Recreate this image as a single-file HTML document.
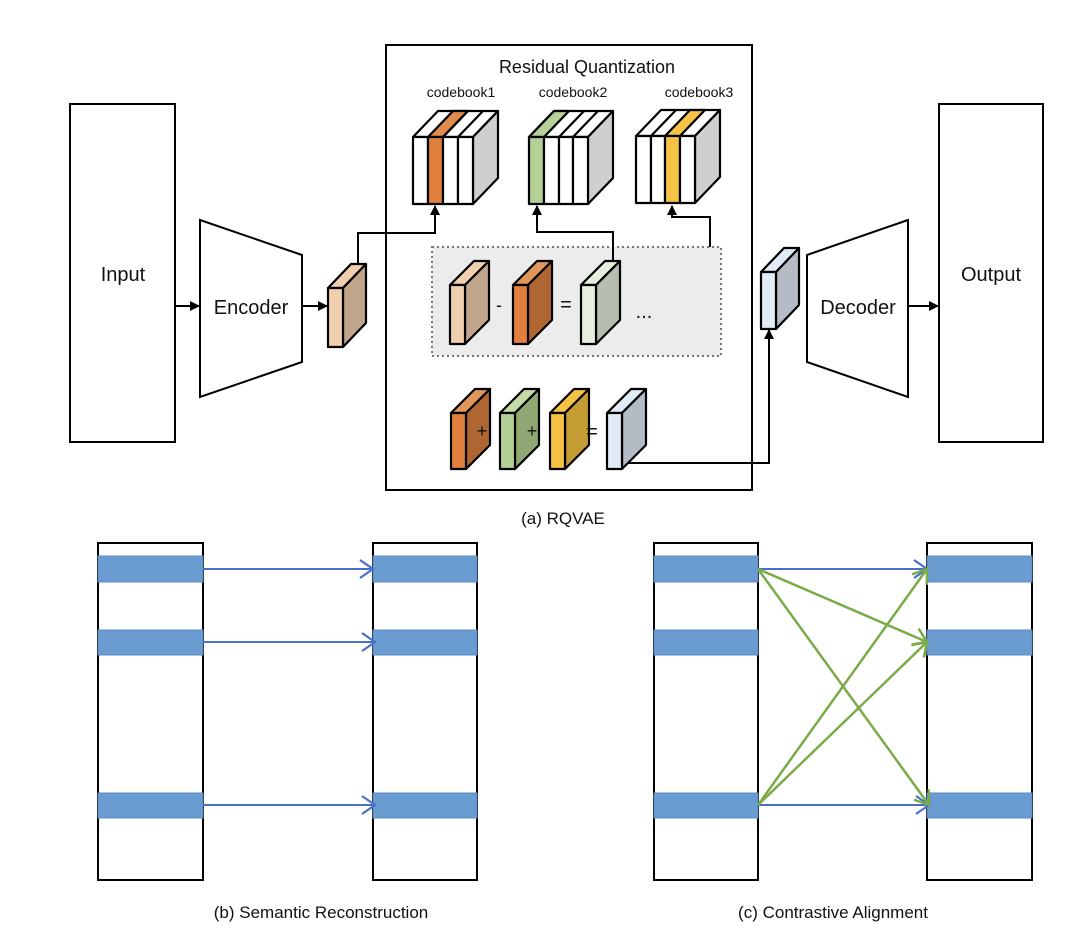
<!DOCTYPE html>
<html><head><meta charset="utf-8"><style>
html,body{margin:0;padding:0;background:#fff;}
svg{display:block;font-family:"Liberation Sans",Arial,sans-serif;}
</style></head><body>
<svg width="1080" height="947" viewBox="0 0 1080 947" xmlns="http://www.w3.org/2000/svg">
<defs>
<marker id="ab" markerWidth="10" markerHeight="10" refX="9" refY="5" orient="auto" markerUnits="userSpaceOnUse"><path d="M0,0 L10,5 L0,10 z" fill="#000"/></marker>
<marker id="bl" markerWidth="18" markerHeight="20" refX="15" refY="10" orient="auto" markerUnits="userSpaceOnUse"><path d="M2,1 L15,10 L2,19" fill="none" stroke="#4a6fc8" stroke-width="2.2"/></marker>
<marker id="gr" markerWidth="18" markerHeight="20" refX="15" refY="10" orient="auto" markerUnits="userSpaceOnUse"><path d="M2,1 L15,10 L2,19" fill="none" stroke="#7aab48" stroke-width="2.5"/></marker>
</defs>
<g stroke="#000" stroke-width="2" fill="none">
<rect x="70" y="104" width="105" height="338" fill="#fff"/>
<polygon points="200,220 302,255 302,362 200,397" fill="#fff"/>
<rect x="386" y="45" width="366" height="445" fill="#fff"/>
<polygon points="908,220 807,255 807,362 908,397" fill="#fff"/>
<rect x="939" y="104" width="104" height="338" fill="#fff"/>
<line x1="175" y1="306" x2="199" y2="306" marker-end="url(#ab)"/>
<line x1="302" y1="306" x2="327" y2="306" marker-end="url(#ab)"/>
<line x1="908" y1="306" x2="938" y2="306" marker-end="url(#ab)"/>
<rect x="432" y="247" width="289" height="109" fill="#ececec" stroke="#777" stroke-dasharray="2,3"/>
<polyline points="358,264 358,233 435,233 435,206" marker-end="url(#ab)"/>
<polyline points="613,262 613,232 537,232 537,206" marker-end="url(#ab)"/>
<polyline points="710,247 710,217 672,217 672,206" marker-end="url(#ab)"/>
<polyline points="628,463 769,463 769,330" marker-end="url(#ab)"/>
</g>
<g stroke="#000" stroke-width="2.2" stroke-linejoin="round">
<polygon points="413,137 438,111 498,111 473,137" fill="#fff"/>
<polygon points="428,137 453,111 468,111 443,137" fill="#e08a4b"/>
<path d="M443,137 L468,111 M458,137 L483,111" fill="none"/>
<polygon points="473,137 498,111 498,178 473,204" fill="#cfcfcf"/>
<rect x="413" y="137" width="15" height="67" fill="#fff"/><rect x="428" y="137" width="15" height="67" fill="#e07f3e"/><rect x="443" y="137" width="15" height="67" fill="#fff"/><rect x="458" y="137" width="15" height="67" fill="#fff"/>
<polygon points="529,137 554,111 613,111 588,137" fill="#fff"/>
<polygon points="529,137 554,111 569,111 544,137" fill="#b5d198"/>
<path d="M559,137 L584,111 M573,137 L598,111" fill="none"/>
<polygon points="588,137 613,111 613,178 588,204" fill="#cfcfcf"/>
<rect x="529" y="137" width="15" height="67" fill="#b3d196"/><rect x="544" y="137" width="15" height="67" fill="#fff"/><rect x="559" y="137" width="14" height="67" fill="#fff"/><rect x="573" y="137" width="15" height="67" fill="#fff"/>
<polygon points="636,136 661,110 720,110 695,136" fill="#fff"/>
<polygon points="665,136 690,110 705,110 680,136" fill="#f4c244"/>
<path d="M651,136 L676,110 M695,136 L720,110" fill="none"/>
<polygon points="695,136 720,110 720,177 695,203" fill="#cfcfcf"/>
<rect x="636" y="136" width="15" height="67" fill="#fff"/><rect x="651" y="136" width="14" height="67" fill="#fff"/><rect x="665" y="136" width="15" height="67" fill="#f4c244"/><rect x="680" y="136" width="15" height="67" fill="#fff"/>
</g>
<g stroke="#000" stroke-width="2.2" stroke-linejoin="round">
<polygon points="328,288 351,264 366,264 343,288" fill="#f0cfae"/>
<polygon points="343,288 366,264 366,323 343,347" fill="#c0a58c"/>
<rect x="328" y="288" width="15" height="59" fill="#f0cfae"/>
<polygon points="450,285 474,261 489,261 465,285" fill="#f0cfae"/><polygon points="465,285 489,261 489,320 465,344" fill="#c0a58c"/><rect x="450" y="285" width="15" height="59" fill="#f0cfae"/>
<polygon points="513,285 537,261 552,261 528,285" fill="#e1965c"/><polygon points="528,285 552,261 552,320 528,344" fill="#b06633"/><rect x="513" y="285" width="15" height="59" fill="#e07f3e"/>
<polygon points="581,285 605,261 620,261 596,285" fill="#e6eedc"/><polygon points="596,285 620,261 620,320 596,344" fill="#b6beb0"/><rect x="581" y="285" width="15" height="59" fill="#e6eedc"/>
<polygon points="451,413 475,389 490,389 466,413" fill="#e1965c"/><polygon points="466,413 490,389 490,445 466,469" fill="#b06633"/><rect x="451" y="413" width="15" height="56" fill="#e07f3e"/>
<polygon points="500,413 524,389 539,389 515,413" fill="#c4dba8"/><polygon points="515,413 539,389 539,445 515,469" fill="#8fa874"/><rect x="500" y="413" width="15" height="56" fill="#b3d196"/>
<polygon points="550,413 574,389 589,389 565,413" fill="#f4c244"/><polygon points="565,413 589,389 589,445 565,469" fill="#c59c34"/><rect x="550" y="413" width="15" height="56" fill="#f4c244"/>
<polygon points="607,413 631,389 646,389 622,413" fill="#e1ebf5"/><polygon points="622,413 646,389 646,445 622,469" fill="#b4bbc4"/><rect x="607" y="413" width="15" height="56" fill="#e1ebf5"/>
<polygon points="761,272 784,248 799,248 776,272" fill="#e1ebf5"/><polygon points="776,272 799,248 799,305 776,329" fill="#b4bbc4"/><rect x="761" y="272" width="15" height="57" fill="#e1ebf5"/>
</g>
<g font-size="20" fill="#111" text-anchor="middle">
<text x="123" y="281">Input</text>
<text x="251" y="314">Encoder</text>
<text x="858" y="314">Decoder</text>
<text x="991" y="281">Output</text>
<text x="587" y="73" font-size="18">Residual Quantization</text>
<text x="461" y="97" font-size="14">codebook1</text>
<text x="573" y="97" font-size="14">codebook2</text>
<text x="699" y="97" font-size="14">codebook3</text>
<text x="499" y="311" font-size="18">-</text>
<text x="566" y="311" font-size="20">=</text>
<text x="644" y="318" font-size="20">...</text>
<text x="482" y="437" font-size="18">+</text>
<text x="532" y="437" font-size="18">+</text>
<text x="592" y="438" font-size="20">=</text>
<text x="563" y="524" font-size="17">(a) RQVAE</text>
<text x="151" y="719">Input</text>
<text x="424" y="719">Output</text>
<text x="706" y="719">Input</text>
<text x="979" y="719">Output</text>
<text x="321" y="918" font-size="17">(b) Semantic Reconstruction</text>
<text x="833" y="918" font-size="17">(c) Contrastive Alignment</text>
</g>
<g stroke="#000" stroke-width="2" fill="#fff">
<rect x="98" y="543" width="105" height="337"/>
<rect x="373" y="543" width="104" height="337"/>
<rect x="654" y="543" width="104" height="337"/>
<rect x="927" y="543" width="105" height="337"/>
</g>
<g fill="#6a9bd1" stroke="#5b8cc2" stroke-width="1">
<rect x="98" y="556" width="105" height="26"/><rect x="98" y="630" width="105" height="25"/><rect x="98" y="793" width="105" height="25"/>
<rect x="373" y="556" width="104" height="26"/><rect x="373" y="630" width="104" height="25"/><rect x="373" y="793" width="104" height="25"/>
<rect x="654" y="556" width="104" height="26"/><rect x="654" y="630" width="104" height="25"/><rect x="654" y="793" width="104" height="25"/>
<rect x="927" y="556" width="105" height="26"/><rect x="927" y="630" width="105" height="25"/><rect x="927" y="793" width="105" height="25"/>
</g>
<g stroke="#4a6fc8" stroke-width="2" fill="none">
<line x1="203" y1="569" x2="373" y2="569" marker-end="url(#bl)"/>
<line x1="203" y1="642" x2="375" y2="642" marker-end="url(#bl)"/>
<line x1="203" y1="805" x2="375" y2="805" marker-end="url(#bl)"/>
<line x1="758" y1="569" x2="927" y2="569" marker-end="url(#bl)"/>
<line x1="758" y1="805" x2="929" y2="805" marker-end="url(#bl)"/>
</g>
<g stroke="#7aab48" stroke-width="2.5" fill="none">
<line x1="758" y1="569" x2="927" y2="642" marker-end="url(#gr)"/>
<line x1="758" y1="569" x2="929" y2="805" marker-end="url(#gr)"/>
<line x1="758" y1="805" x2="927" y2="569" marker-end="url(#gr)"/>
<line x1="758" y1="805" x2="927" y2="642" marker-end="url(#gr)"/>
</g>
</svg>
</body></html>
